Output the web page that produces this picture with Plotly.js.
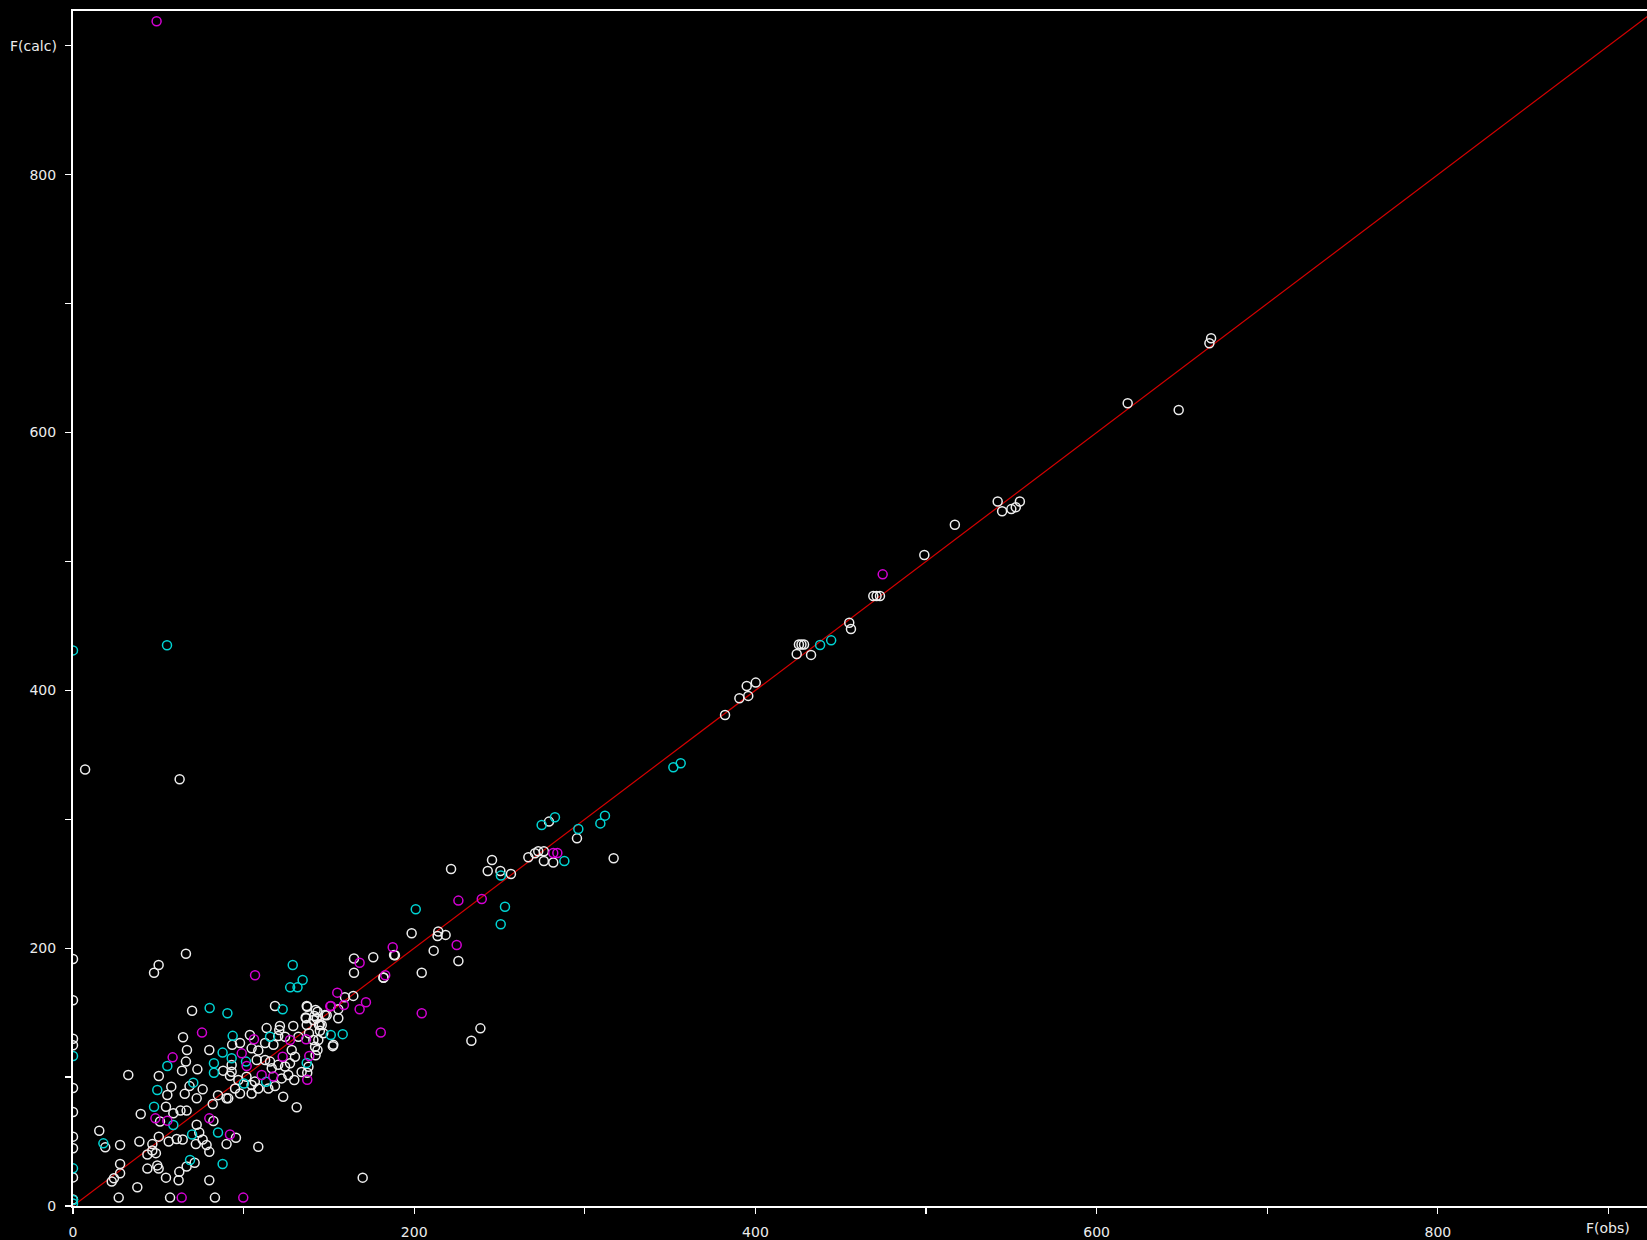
<!DOCTYPE html>
<html>
<head>
<meta charset="utf-8">
<script src="https://cdn.plot.ly/plotly-3.0.1.min.js"></script>
<style>html,body{margin:0;padding:0;background:#000;}#chart{width:1647px;height:1240px;}</style>
</head>
<body>
<div id="chart"></div>
<script>
// ---- data (F(obs), F(calc)) ----
const whiteX = [0,0,0,0,0,0,0,0,0,0,
  7.1,62.5,
  66.2,50.2,47.5,69.8,64.5,66.8,79.9,66.2,63.9,72.9,88,92,32.4,50.3,68.3,57.6,76,55.3,65.5,72.5,85,90,81.9,54.5,39.7,58.8,63,66.6,51,82.3,72.5,15.4,18.9,27.6,38.9,50.3,46.5,56.1,60.8,64.3,74,76,72,78.3,90,79.9,46.5,48.6,43.6,27.6,27.6,24,22.7,43.6,49.4,50.2,54.5,62.3,61.9,71.3,66.6,79.9,37.7,26.8,56.9,83.2,
  118.4,137,142.2,155.5,136.4,141.5,142.9,147.7,137,144.2,145.8,121.3,129.1,113.5,138.3,146.7,103.7,120.3,124.3,132.1,140.9,141.9,152.6,
  93.3,108.6,112.6,117.5,128.2,130.1,127.2,124.3,120.3,116.5,115.5,138,142.2,134,129.7,126.2,122.3,93,93,95,104.7,106.6,108.6,104.7,114.5,97.9,91,118.4,123.2,131.1,101.7,96.9,112.6,107.7,104.7,97.9,
  108.6,95.5,169.8,143.8,143.3,137.3,
  164.7,176,188.2,164.7,182,159.4,164.3,137.3,143.3,148.7,155.5,136.6,140.9,144.7,144.7,152.3,120.9,
  295.4,316.9,266.9,270.8,272.7,276,276,281.5,279,245.6,221.6,243.1,250.5,256.7,198.5,214.1,213.7,218.4,211.4,225.9,204.4,188.7,238.8,233.5,182,
  382.2,390.6,395.8,394.9,400.2,424.2,425.5,427,428.5,432.6,455,456,469.1,471,473,
  499,516.9,542,544.6,550,552.6,555,618.2,648.1,667.1,666.1];
const whiteY = [191.6,159.6,129.8,124.7,91.5,72.9,53.8,44.8,22.2,5,
  338.6,331,
  195.7,187,181,151.5,130.9,121,121,112,105,106,105,101,101.6,100.9,93,92.6,90.5,86.1,87,83.5,86,83.5,79.1,77,71.4,72,74,74,65.6,66,63,58.4,45.5,47.3,50,53.8,48,50,52,51.6,57,51.6,48,47.3,48,42,43,41,40,32.6,25.4,21.5,19,29,31.5,29,22,26.5,20,33.6,30.6,20,14.5,6.5,6.5,6.5,
  155.2,155.2,152,152.6,146.3,147.4,145.6,148.2,140.4,140.4,140.4,139.6,139.6,138,134,134,132.6,131.8,131.3,131.3,128.8,123.6,125,
  125,120.7,126.4,125.1,121,115.8,110.7,108.2,109.5,106.9,112,108,117,104,97.7,101.6,99,109.4,104.2,91.2,93.9,96.5,91.2,87.3,91.2,87.3,83.5,93,84.8,76.6,100.3,97.7,113.2,113.2,122.3,126.4,
  46,52.9,22,128.8,121,103.4,
  192,193,194.7,181,177,161.9,163,154.5,150.7,148,145.6,145.6,144.3,141,136,124,136.5,
  285.2,269.7,270.5,273.6,275.2,275.2,267.6,266.4,298.2,268.4,261.4,259.9,259.9,257.6,211.6,212.9,209.5,210.3,198.1,190.1,181,194.5,137.8,128.2,177.3,
  380.9,393.9,395.7,403.4,406,428.2,435.6,435.6,435.6,427.5,452.5,447.6,473.2,473.2,473.2,
  505,528.5,546.5,539,540.6,542,546.5,622.7,617.5,673.1,669.2];

const cyanX = [0,0,0,0,0,55.1,
  80.1,90.5,93.6,55.3,87.7,82.6,82.6,93,70.5,49.4,47.5,58.8,17.8,69.8,85,68.6,87.7,
  128.8,134.6,127.3,131.6,122.9,151.1,158.1,115.5,137,113.2,100.2,101.4,
  274.7,282.5,311.8,309.1,296.2,288,250.8,200.9,253.2,250.7,
  351.9,356.2,437.9,444.4];
const cyanY = [431,116.4,29.2,4.7,2,435,
  153.6,149.5,132,108.6,119,110.7,103.4,114.6,95.7,90,77,62.8,48.6,55.4,57,35.7,32.6,
  187,175.3,169.6,169.6,152.6,132.6,133.3,131.3,111,96.3,95,112,
  295.6,301.5,302.8,296.8,292.5,267.6,256.3,230.2,232.2,218.5,
  340.3,343.5,435.2,438.8];

const magentaX = [49,
  75.6,58.4,48.3,55.3,79.9,92,63.7,99.8,
  187.4,168,183,106.7,154.9,158.8,171.7,168,150.8,151.2,180.4,106.1,98.9,101.8,122.9,127.2,110.6,117.4,136.6,138.5,137.3,
  281.5,283.9,225.9,239.6,224.9,204.4,
  474.6];
const magentaY = [919,
  134.5,115.3,68,66.2,68,55.4,6.5,6.5,
  200.7,188.7,179,179,165.5,155.9,158,152.6,155,155.2,134.6,129.3,118.4,108.6,115.8,128.8,101.6,100.4,129.3,116.4,98,
  273.8,273.8,236.9,238.2,202.5,149.5,
  490];

// reference line F(calc) = F(obs)
const fitX = [0, 1000];
const fitY = [0, 1000];

const tickVals = [0,100,200,300,400,500,600,700,800,900];
const xTickText = ['0','','200','','400','','600','','800',''];
const yTickText = ['0','','200','','400','','600','','800',''];
const xLabel = 'F(obs)';
const yLabel = 'F(calc)';

// ---- chart ----
const font = {family:'DejaVu Sans, sans-serif', size:14, color:'#ececec'};
function mk(x, y, color){
  return {x:x, y:y, type:'scatter', mode:'markers', hoverinfo:'skip',
    marker:{symbol:'circle-open', size:9, color:color, line:{width:1.5, color:color}}};
}
const traces = [
  {x:fitX, y:fitY, type:'scatter', mode:'lines', hoverinfo:'skip', line:{color:'#d40000', width:1.2}},
  mk(whiteX, whiteY, '#eeeeee'),
  mk(cyanX, cyanY, '#00d4d4'),
  mk(magentaX, magentaY, '#d400d4')
];
const axisCommon = {
  tickmode:'array', tickvals:tickVals, ticks:'outside', ticklen:6, tickwidth:1.3,
  tickcolor:'#ffffff', showline:true, linecolor:'#ffffff', linewidth:2,
  showgrid:false, zeroline:false, tickfont:font, fixedrange:true
};
const layout = {
  width:1647, height:1240,
  margin:{l:73, r:0, t:11, b:34, pad:0},
  paper_bgcolor:'#000000', plot_bgcolor:'#000000',
  showlegend:false, font:font,
  xaxis:Object.assign({}, axisCommon, {range:[0, 922.6], ticktext:xTickText, mirror:true, ticklabelstandoff:6}),
  yaxis:Object.assign({}, axisCommon, {range:[0, 927], ticktext:yTickText, ticklabelstandoff:6}),
  annotations:[
    {text:yLabel, xref:'paper', x:0, xanchor:'right', xshift:-14, yref:'y', y:900, yanchor:'middle', showarrow:false, font:font},
    {text:xLabel, xref:'x', x:900, xanchor:'center', yref:'paper', y:0, yanchor:'top', yshift:-12, showarrow:false, font:font}
  ]
};
Plotly.newPlot('chart', traces, layout, {staticPlot:true, displayModeBar:false});
</script>
</body>
</html>
